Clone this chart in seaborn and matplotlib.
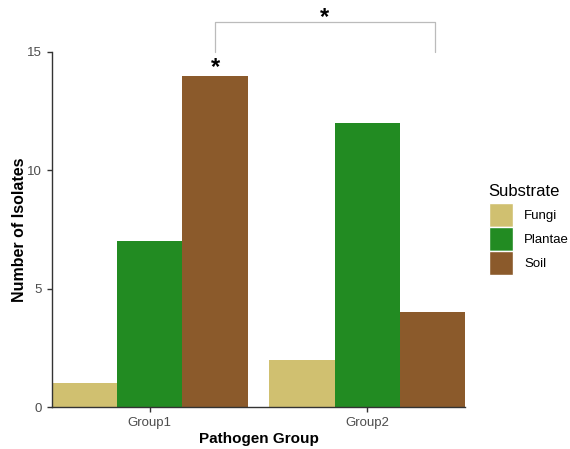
import pandas as pd
import matplotlib.pyplot as plt
import seaborn as sns
from matplotlib.patches import Patch

# 데이터
groups = ['Group1', 'Group2']
substrates = ['Fungi', 'Plantae', 'Soil']
fungi = [1, 2]
plantae = [7, 12]
soil = [14, 4]
colors = ['#D0C070', '#228B22', '#8B5A2B']

df = pd.DataFrame({
    'Pathogen Group': groups * 3,
    'Substrate': ['Fungi'] * 2 + ['Plantae'] * 2 + ['Soil'] * 2,
    'Count': fungi + plantae + soil,
})

sns.set_theme(style='ticks')
plt.rcParams['font.family'] = ['Liberation Sans', 'DejaVu Sans']
plt.rcParams['text.color'] = 'black'
plt.rcParams['axes.labelcolor'] = 'black'

fig = plt.figure(figsize=(5.7, 4.49), dpi=100)
ax = fig.add_axes([0.0912, 0.0935, 0.7246, 0.7907])

sns.barplot(data=df, x='Pathogen Group', y='Count', hue='Substrate',
            hue_order=substrates, palette=colors, width=0.9, gap=0,
            saturation=1, linewidth=0, ax=ax, legend=False)

ax.set_xlim(-0.45, 1.45)
ax.set_ylim(0, 15)
ax.set_yticks([0, 5, 10, 15])
sns.despine(ax=ax)
for s in ['left', 'bottom']:
    ax.spines[s].set_color('#333333')
    ax.spines[s].set_linewidth(1.0)
ax.tick_params(axis='both', labelsize=9.5, labelcolor='#4D4D4D', color='#333333',
               length=3.5, width=1.0)
ax.set_xlabel('Pathogen Group', fontsize=11, fontweight='bold', labelpad=2)
ax.set_ylabel('Number of Isolates', fontsize=11.5, fontweight='bold', labelpad=0)

# 유의성 표시
x1, x2 = 0.3, 1.31
ax.plot([x1, x1, x2, x2], [15.0, 16.27, 16.27, 15.0], color='#BBBBBB',
        lw=0.9, clip_on=False)
ax.text((x1 + x2) / 2, 16.45, '*', ha='center', va='center', fontsize=17,
        fontweight='bold', clip_on=False)
ax.text(x1, 14.33, '*', ha='center', va='center', fontsize=17,
        fontweight='bold', clip_on=False)

handles = [Patch(facecolor=c, edgecolor='white', linewidth=1) for c in colors]
leg = fig.legend(handles, substrates, title='Substrate', loc='upper left',
                 bbox_to_anchor=(0.848, 0.603), frameon=False, fontsize=9.5,
                 title_fontsize=12, handlelength=1.85, handleheight=2.45,
                 handletextpad=0.85, labelspacing=0.0, borderaxespad=0)
leg._legend_box.align = 'left'
leg._legend_box.sep = 3

fig.savefig('out.png', dpi=100)
